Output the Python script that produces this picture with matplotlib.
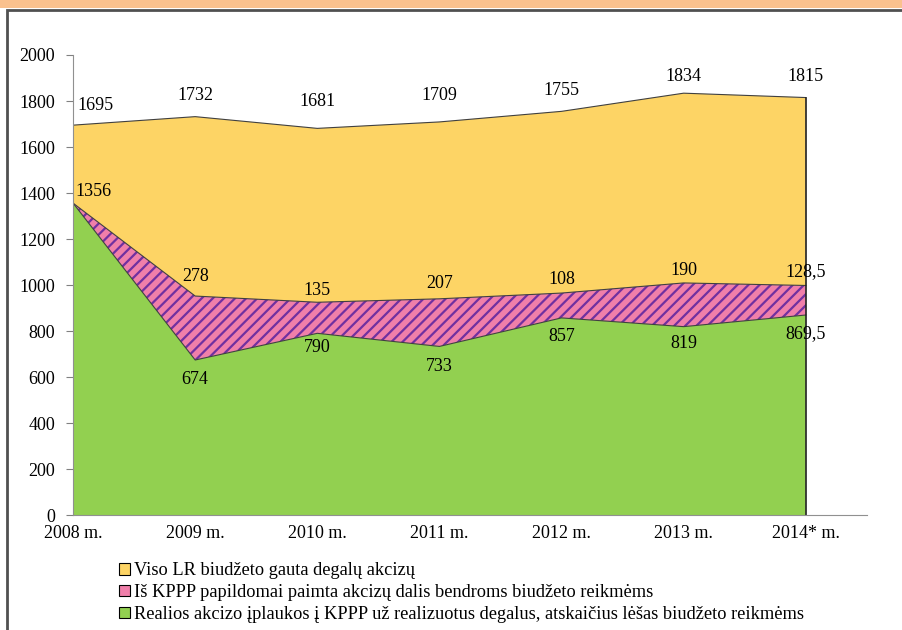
import numpy as np
import matplotlib.pyplot as plt
from matplotlib.patches import Patch, Rectangle

plt.rcParams['font.family'] = ['Liberation Serif', 'DejaVu Serif']
plt.rcParams['hatch.linewidth'] = 1.6

years = ['2008 m.', '2009 m.', '2010 m.', '2011 m.', '2012 m.', '2013 m.', '2014* m.']
total = [1695, 1732, 1681, 1709, 1755, 1834, 1815]
extra = [0, 278, 135, 207, 108, 190, 128.5]
real = [1356, 674, 790, 733, 857, 819, 869.5]
extra_lbl = ['1356', '278', '135', '207', '108', '190', '128,5']
real_lbl = ['', '674', '790', '733', '857', '819', '869,5']
total_lbl = ['1695', '1732', '1681', '1709', '1755', '1834', '1815']

leg_names = ['Viso LR biudžeto gauta degalų akcizų',
             'Iš KPPP papildomai paimta akcizų dalis bendroms biudžeto reikmėms',
             'Realios akcizo įplaukos į KPPP už realizuotus degalus, atskaičius lėšas biudžeto reikmėms']

c_yel = '#FDD465'
c_pink = '#F07FAA'
c_green = '#92D050'
c_hatch = '#7030A0'

x = np.arange(len(years))
real = np.array(real)
mid = real + np.array(extra)
total = np.array(total)

fig = plt.figure(figsize=(9.02, 6.30), dpi=100)
ax = fig.add_axes([0.081, 0.1825, 0.88, 0.7302])

ax.fill_between(x, mid, total, facecolor=c_yel, edgecolor='none')
ax.fill_between(x, real, mid, facecolor=c_pink, edgecolor=c_hatch, hatch='///', lw=0)
ax.fill_between(x, 0, real, facecolor=c_green, edgecolor='none')
for yy in [total, mid, real]:
    ax.plot(x, yy, color='#404040', lw=0.8)
ax.plot([x[-1], x[-1]], [0, total[-1]], color='#202020', lw=1.2)

ax.set_xlim(0, 6.5)
ax.set_ylim(0, 2000)
ax.set_yticks(np.arange(0, 2001, 200))
ax.set_xticks(x)
ax.set_xticklabels(years)
ax.tick_params(axis='x', length=0, pad=7, labelsize=13)
ax.tick_params(axis='y', length=5, color='#808080', pad=8, labelsize=13)
for s in ['top', 'right']:
    ax.spines[s].set_visible(False)
for s in ['left', 'bottom']:
    ax.spines[s].set_color('#909090')
    ax.spines[s].set_zorder(5)

# data labels (offsets in points)
tot_off = [(3, 8), (0, 9), (0, 13), (0, 13), (0, 9), (0, 6), (0, 9)]
mid_off = [(2, 2), (0, 8), (0, 2), (0, 5), (0, 4), (0, 3), (0, 4)]
real_off = [(0, 0), (0, -8), (0, -4), (0, -8), (0, -7), (0, -6), (0, -7)]
for i in range(len(years)):
    ha = 'left' if i == 0 else 'center'
    ax.annotate(total_lbl[i], (x[i], total[i]), xytext=tot_off[i], textcoords='offset points',
                ha=ha, va='bottom', fontsize=13)
    yb = real[i] if i == 0 else mid[i]
    ax.annotate(extra_lbl[i], (x[i], yb), xytext=mid_off[i], textcoords='offset points',
                ha=ha, va='bottom', fontsize=13)
    if real_lbl[i]:
        ax.annotate(real_lbl[i], (x[i], real[i]), xytext=real_off[i], textcoords='offset points',
                    ha='center', va='top', fontsize=13)

handles = [Patch(facecolor=c_yel, edgecolor='black', lw=0.8),
           Patch(facecolor=c_pink, edgecolor='black', lw=0.8),
           Patch(facecolor=c_green, edgecolor='black', lw=0.8)]
fig.legend(handles, leg_names, loc='upper left', bbox_to_anchor=(0.122, 0.122),
           frameon=False, fontsize=13.2, handlelength=0.6, handleheight=0.6,
           handletextpad=0.2, labelspacing=0.26, borderpad=0)

# page decorations
fig.patches.append(Rectangle((0, 1 - 8 / 630), 1, 8 / 630, transform=fig.transFigure,
                             facecolor='#FAC18E', edgecolor='none', zorder=0))
fig.patches.append(Rectangle((7 / 902, -0.05), 1.0, 1 - 10 / 630 + 0.05, transform=fig.transFigure,
                             facecolor='none', edgecolor='#505050', lw=2, zorder=0))

fig.savefig('out.png', dpi=100)
